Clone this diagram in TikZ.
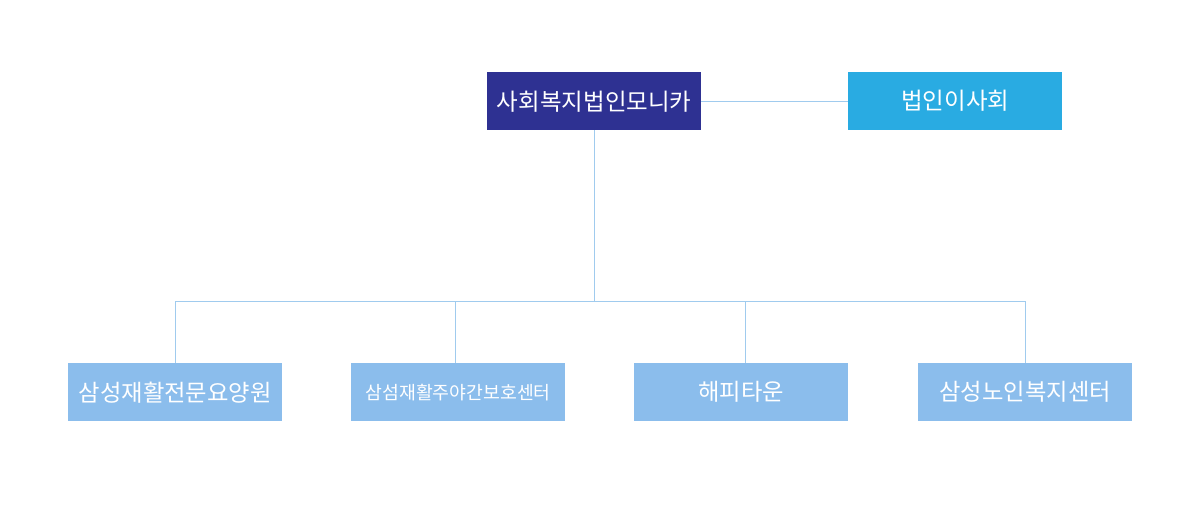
\documentclass[tikz,border=0pt]{standalone}
\usepackage{fontspec}
\setmainfont{Noto Sans CJK KR}
\definecolor{navy}{RGB}{46,49,146}
\definecolor{sky}{RGB}{41,171,226}
\definecolor{pale}{RGB}{139,189,236}
\definecolor{linec}{RGB}{160,203,238}
\begin{document}
\begin{tikzpicture}[x=1pt,y=-1pt,
  box/.style={draw=none,minimum width=214pt,minimum height=58pt,inner sep=0pt,text=white,anchor=north west},
  conn/.style={draw=linec,line width=1pt}]
\useasboundingbox[fill=white] (0,0) rectangle (1200,522);
\node[box,fill=navy,font=\fontsize{23.5}{26}\selectfont] (top) at (487,72) {사회복지법인모니카};
\node[box,fill=sky,font=\fontsize{23.5}{26}\selectfont] (board) at (848,72) {법인이사회};
\node[box,fill=pale,font=\fontsize{23.3}{26}\selectfont] (b1) at (68,363) {삼성재활전문요양원};
\node[box,fill=pale,font=\fontsize{18.3}{21}\selectfont] (b2) at (351,363) {삼섬재활주야간보호센터};
\node[box,fill=pale,font=\fontsize{23.3}{26}\selectfont] (b3) at (634,363) {해피타운};
\node[box,fill=pale,font=\fontsize{23.3}{26}\selectfont] (b4) at (918,363) {삼성노인복지센터};
\coordinate (bar) at (595,301);
\draw[conn] (top.east) -- (board.west);
\draw[conn] (top.south) -- (top.south |- bar);
\draw[conn] (b1.north |- bar) -- (b4.north |- bar);
\draw[conn] (b1.north) -- (b1.north |- bar);
\draw[conn] ([xshift=-3pt]b2.north) -- ([xshift=-3pt]b2.north |- bar);
\draw[conn] ([xshift=4pt]b3.north) -- ([xshift=4pt]b3.north |- bar);
\draw[conn] (b4.north) -- (b4.north |- bar);
\end{tikzpicture}
\end{document}
